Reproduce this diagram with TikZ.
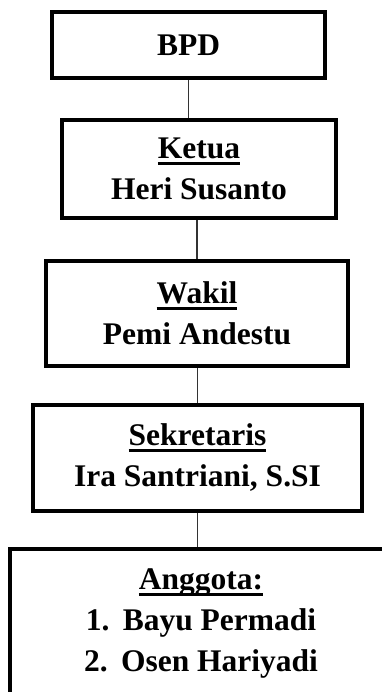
\documentclass[tikz,border=0pt]{standalone}
\usepackage{fontspec}
\setmainfont{Liberation Serif}
\usetikzlibrary{positioning}
\newsavebox{\undlbox}
\newcommand{\undl}[1]{\sbox{\undlbox}{#1}\rlap{\rule[-6.5pt]{\wd\undlbox}{3pt}}\usebox{\undlbox}}

\begin{document}
\begin{tikzpicture}[
        box/.style={draw, line width=4pt, inner sep=0pt, align=center,
                    font=\fontsize{31.5}{41}\selectfont\bfseries},
        link/.style={line width=1.4pt, black!80}
      ]
        \useasboundingbox (0,0) rectangle (382pt,-692pt);
        \clip (0,0) rectangle (382pt,-692pt);
        \node[box, minimum width=273pt, minimum height=66pt] (bpd) at (188.5pt,-45pt) {BPD};
        \node[box, minimum width=274pt, minimum height=98pt, below=38pt of bpd, xshift=10.5pt] (ketua)
          {\undl{Ketua}\\Heri Susanto};
        \node[box, minimum width=302pt, minimum height=105pt, below=39pt of ketua, xshift=-2pt] (wakil)
          {\undl{Wakil}\\Pemi Andestu};
        \node[box, minimum width=329pt, minimum height=106pt, below=35pt of wakil, xshift=0.5pt] (sekretaris)
          {\undl{Sekretaris}\\Ira Santriani, S.SI};
        \node[box, minimum width=382pt, minimum height=149pt, below=34pt of sekretaris, xshift=3.5pt] (anggota)
          {\undl{Anggota:}\\\makebox[37pt][l]{1.}Bayu Permadi\\\makebox[37pt][l]{2.}Osen Hariyadi};
        \draw[link] (bpd.south) -- (bpd.south |- ketua.north);
        \draw[link] (wakil.north) -- (wakil.north |- ketua.south);
        \draw[link] (sekretaris.north) -- (sekretaris.north |- wakil.south);
        \draw[link] (sekretaris.south) -- (sekretaris.south |- anggota.north);
      \end{tikzpicture}
\end{document}
